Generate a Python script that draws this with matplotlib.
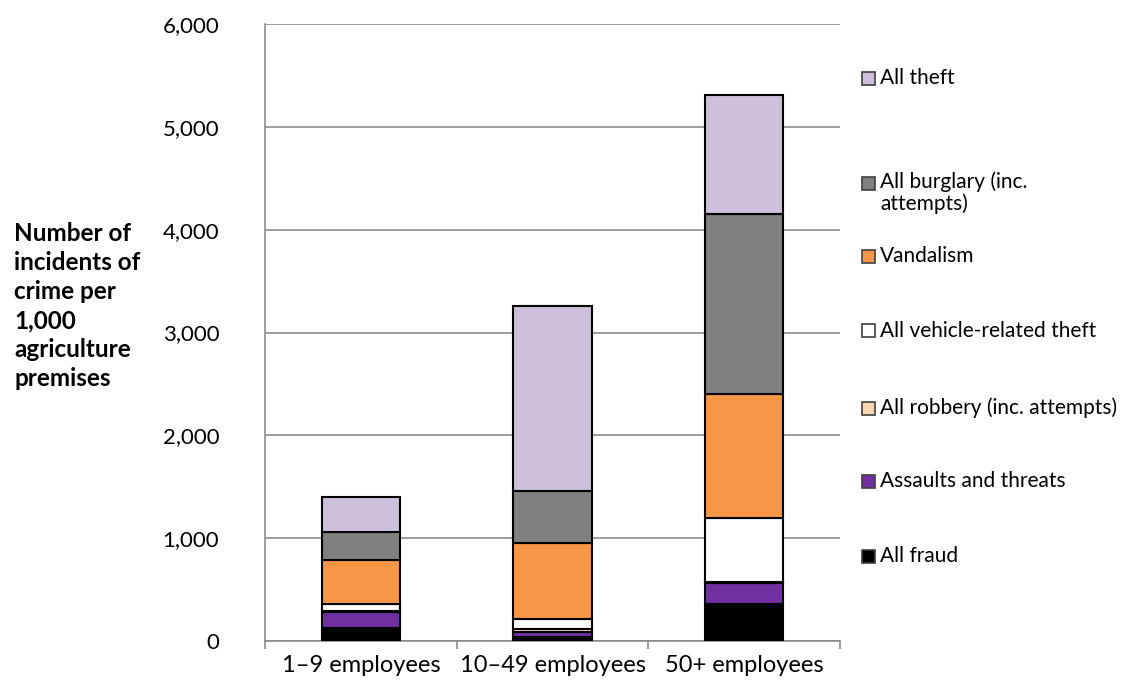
import matplotlib.pyplot as plt
from matplotlib.patches import Rectangle
import numpy as np

plt.rcParams['font.family'] = ['Lato', 'DejaVu Sans']

# data (stack order bottom -> top)
categories = ['1–9 employees', '10–49 employees', '50+ employees']
series_names = ['All fraud', 'Assaults and threats', 'All robbery (inc. attempts)',
                'All vehicle-related theft', 'Vandalism', 'All burglary (inc.\nattempts)',
                'All theft']
fraud = [125, 35, 355]
assaults = [160, 50, 205]
robbery = [5, 30, 15]
vehicle = [65, 100, 625]
vandalism = [430, 740, 1205]
burglary = [275, 505, 1750]
theft = [345, 1800, 1150]
colors = ['#000000', '#7030A0', '#FCD5B5', '#FFFFFF', '#F79646', '#808080', '#CCC0DA']

W, H = 1123, 686
fig = plt.figure(figsize=(W / 100, H / 100), dpi=100)
ax = fig.add_axes([265 / W, 45 / H, 575 / W, 617 / H])

x = np.arange(len(categories))
bottom = np.zeros(len(categories))
for name, vals, col in zip(series_names,
                           [fraud, assaults, robbery, vehicle, vandalism, burglary, theft],
                           colors):
    ax.bar(x, vals, width=0.41, bottom=bottom, color=col, edgecolor='black',
           linewidth=1.5, label=name, zorder=3)
    bottom += np.array(vals)

ax.set_xlim(-0.5, 2.5)
ax.set_ylim(0, 6000)
ax.set_yticks(np.arange(0, 6001, 1000))
ax.set_yticklabels([f'{v:,}' for v in range(0, 6001, 1000)], fontsize=16)
ax.yaxis.grid(True, color='#8C8C8C', linewidth=1.2, zorder=0)
ax.tick_params(axis='y', length=0, pad=33)

ax.set_xticks(x)
ax.set_xticklabels(categories, fontsize=17)
ax.set_xticks([-0.5, 0.5, 1.5, 2.5], minor=True)
ax.tick_params(axis='x', which='major', length=0, pad=10)
ax.tick_params(axis='x', which='minor', length=6, color='#8C8C8C', width=1.2)

for s in ['top', 'right']:
    ax.spines[s].set_visible(False)
for s in ['left', 'bottom']:
    ax.spines[s].set_color('#8C8C8C')
    ax.spines[s].set_linewidth(1.2)

fig.text(14 / W, 1 - 306 / H, 'Number of\nincidents of\ncrime per\n1,000\nagriculture\npremises',
         fontsize=17.5, fontweight='bold', ha='left', va='center', linespacing=1.32)

# legend drawn by hand (top to bottom), positions in pixels from top
legend_y = [78, 183, 256, 331, 408, 481, 556]
for yy, name, col in zip(legend_y, series_names[::-1], colors[::-1]):
    fig.patches.append(Rectangle((862 / W, 1 - (yy + 6.5) / H), 13 / W, 13 / H,
                                 transform=fig.transFigure, facecolor=col,
                                 edgecolor='#404040', linewidth=1.2))
    if '\n' in name:
        fig.text(880 / W, 1 - (yy - 12) / H, name, fontsize=15, ha='left', va='top',
                 linespacing=1.1)
    else:
        fig.text(880 / W, 1 - yy / H, name, fontsize=15, ha='left', va='center')

fig.savefig('out.png', dpi=100)
